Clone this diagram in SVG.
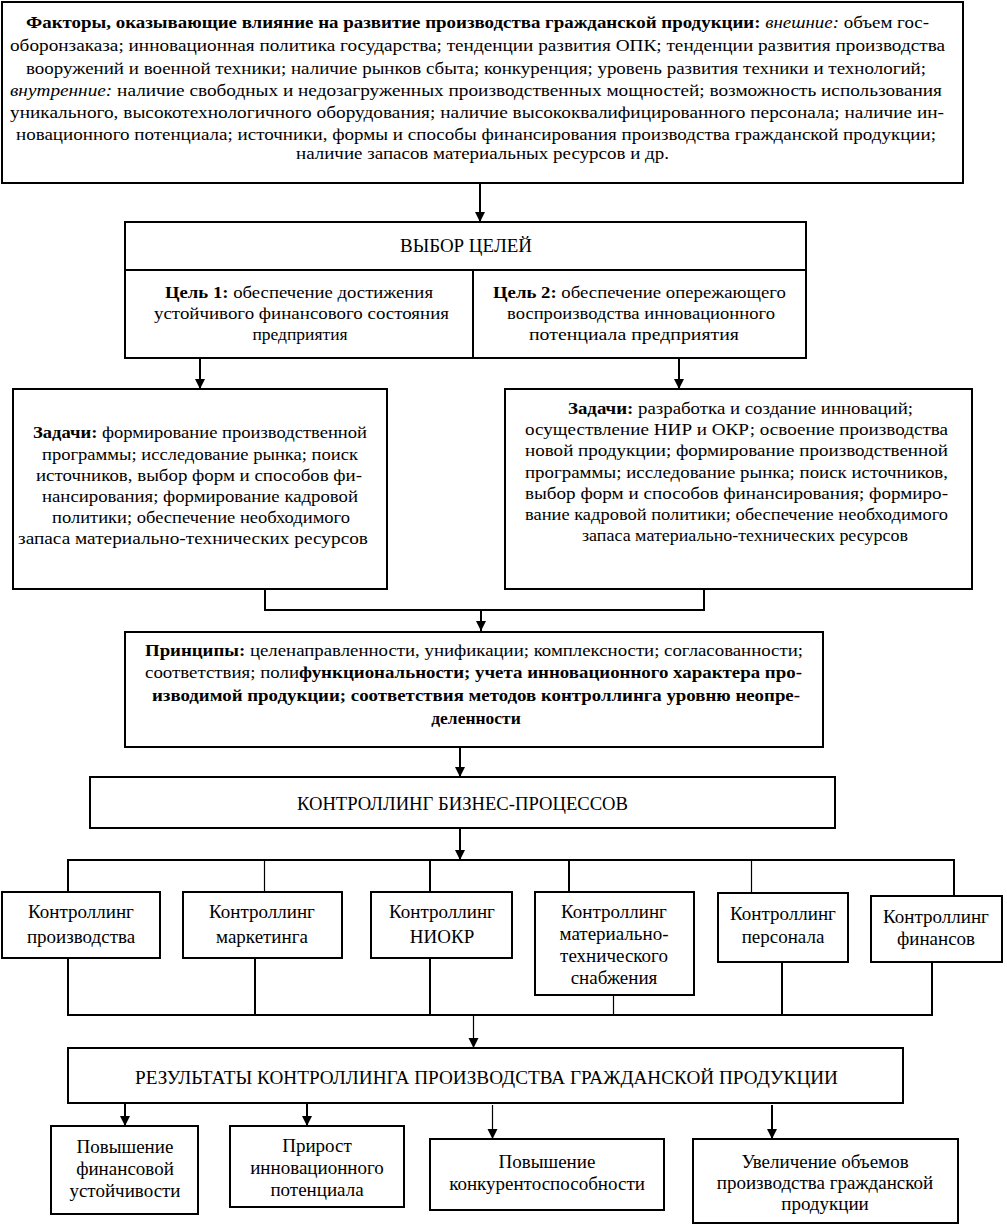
<svg xmlns="http://www.w3.org/2000/svg" width="1007" height="1226" viewBox="0 0 1007 1226" font-family="'Liberation Serif', 'Times New Roman', serif">
<style>
text{font-family:'Liberation Serif','Times New Roman',serif;font-size:17.5px;fill:#000}
.l{font-size:19px}
.c{text-anchor:middle}
.b{font-weight:bold}
.i{font-style:italic}
rect{fill:#fff;stroke:#000;stroke-width:2}
.ln{fill:none;stroke:#000;stroke-width:2}
.th{fill:none;stroke:#000;stroke-width:1.2}
</style>
<defs>
<marker id="ah" viewBox="0 0 10 10" refX="10" refY="5" markerWidth="10" markerHeight="11" markerUnits="userSpaceOnUse" orient="auto">
<path d="M0,0 L10,5 L0,10 z" fill="#000"/>
</marker>
</defs>
<g id="connectors">
<line class="ln" x1="480" y1="183" x2="480" y2="222" marker-end="url(#ah)"/>
<line class="ln" x1="200" y1="359" x2="200" y2="389" marker-end="url(#ah)"/>
<line class="ln" x1="679" y1="359" x2="679" y2="389" marker-end="url(#ah)"/>
<path class="ln" d="M265 589 V610 H704 V589"/>
<line class="ln" x1="481" y1="610" x2="481" y2="631" marker-end="url(#ah)"/>
<line class="ln" x1="460" y1="747" x2="460" y2="777" marker-end="url(#ah)"/>
<line class="ln" x1="460" y1="828" x2="460" y2="860" marker-end="url(#ah)"/>
<path class="ln" d="M68 892 V860 H954 V896"/>
<line class="th" x1="264.5" y1="860" x2="264.5" y2="892"/>
<line class="ln" x1="430" y1="860" x2="430" y2="892"/>
<line class="ln" x1="569" y1="860" x2="569" y2="892"/>
<line class="th" x1="751.5" y1="860" x2="751.5" y2="893"/>
<path class="ln" d="M68 958 V1015 H932 V962"/>
<line class="ln" x1="255" y1="958" x2="255" y2="1015"/>
<line class="ln" x1="430" y1="958" x2="430" y2="1015"/>
<line class="th" x1="613.5" y1="995" x2="613.5" y2="1015"/>
<line class="ln" x1="782" y1="962" x2="782" y2="1015"/>
<line class="th" x1="473.5" y1="1015" x2="473.5" y2="1048" marker-end="url(#ah)"/>
<line class="ln" x1="125" y1="1103" x2="125" y2="1126" marker-end="url(#ah)"/>
<line class="ln" x1="307" y1="1103" x2="307" y2="1126" marker-end="url(#ah)"/>
<line class="th" x1="492.5" y1="1105" x2="492.5" y2="1139" marker-end="url(#ah)"/>
<line class="ln" x1="772" y1="1105" x2="772" y2="1139" marker-end="url(#ah)"/>
</g>
<g id="factors">
<rect x="2" y="2" width="961" height="181"/>
<text x="26" y="28" textLength="903" lengthAdjust="spacingAndGlyphs"><tspan class="b">Факторы, оказывающие влияние на развитие производства гражданской продукции:</tspan> <tspan class="i">внешние:</tspan> объем гос-</text>
<text x="10" y="51" textLength="935" lengthAdjust="spacingAndGlyphs">оборонзаказа; инновационная политика государства; тенденции развития ОПК; тенденции развития производства</text>
<text x="26" y="74" textLength="900" lengthAdjust="spacingAndGlyphs">вооружений и военной техники; наличие рынков сбыта; конкуренция; уровень развития техники и технологий;</text>
<text x="10" y="96" textLength="932" lengthAdjust="spacingAndGlyphs"><tspan class="i">внутренние:</tspan> наличие свободных и недозагруженных производственных мощностей; возможность использования</text>
<text x="10" y="118" textLength="934" lengthAdjust="spacingAndGlyphs">уникального, высокотехнологичного оборудования; наличие высококвалифицированного персонала; наличие ин-</text>
<text x="16" y="140" textLength="920" lengthAdjust="spacingAndGlyphs">новационного потенциала; источники, формы и способы финансирования производства гражданской продукции;</text>
<text x="296" y="159" textLength="373" lengthAdjust="spacingAndGlyphs">наличие запасов материальных ресурсов и др.</text>
</g>
<g id="goals">
<rect x="125" y="222" width="681" height="136"/>
<line class="ln" x1="125" y1="270" x2="806" y2="270"/>
<line class="ln" x1="473" y1="270" x2="473" y2="358"/>
<text class="l" x="400" y="252" textLength="132" lengthAdjust="spacingAndGlyphs">ВЫБОР ЦЕЛЕЙ</text>
</g>
<g id="goal1">
<text x="165" y="298" textLength="268" lengthAdjust="spacingAndGlyphs"><tspan class="b">Цель 1:</tspan> обеспечение достижения</text>
<text x="154" y="319" textLength="295" lengthAdjust="spacingAndGlyphs">устойчивого финансового состояния</text>
<text class="c" x="300" y="340">предприятия</text>
</g>
<g id="goal2">
<text x="493" y="298" textLength="293" lengthAdjust="spacingAndGlyphs"><tspan class="b">Цель 2:</tspan> обеспечение опережающего</text>
<text x="507" y="319" textLength="268" lengthAdjust="spacingAndGlyphs">воспроизводства инновационного</text>
<text x="529" y="340" textLength="210" lengthAdjust="spacingAndGlyphs">потенциала предприятия</text>
</g>
<g id="tasks1">
<rect x="13" y="389" width="374" height="200"/>
<text x="33" y="438" textLength="334" lengthAdjust="spacingAndGlyphs"><tspan class="b">Задачи:</tspan> формирование производственной</text>
<text x="42" y="460" textLength="316" lengthAdjust="spacingAndGlyphs">программы; исследование рынка; поиск</text>
<text x="36" y="481" textLength="326" lengthAdjust="spacingAndGlyphs">источников, выбор форм и способов фи-</text>
<text x="42" y="502" textLength="316" lengthAdjust="spacingAndGlyphs">нансирования; формирование кадровой</text>
<text x="52" y="523" textLength="298" lengthAdjust="spacingAndGlyphs">политики; обеспечение необходимого</text>
<text x="18" y="544" textLength="350" lengthAdjust="spacingAndGlyphs">запаса материально-технических ресурсов</text>
</g>
<g id="tasks2">
<rect x="505" y="389" width="467" height="200"/>
<text x="568" y="414" textLength="345" lengthAdjust="spacingAndGlyphs"><tspan class="b">Задачи:</tspan> разработка и создание инноваций;</text>
<text x="525" y="435" textLength="423" lengthAdjust="spacingAndGlyphs">осуществление НИР и ОКР; освоение производства</text>
<text x="525" y="456" textLength="423" lengthAdjust="spacingAndGlyphs">новой продукции; формирование производственной</text>
<text x="525" y="478" textLength="423" lengthAdjust="spacingAndGlyphs">программы; исследование рынка; поиск источников,</text>
<text x="525" y="499" textLength="423" lengthAdjust="spacingAndGlyphs">выбор форм и способов финансирования; формиро-</text>
<text x="525" y="520" textLength="423" lengthAdjust="spacingAndGlyphs">вание кадровой политики; обеспечение необходимого</text>
<text x="582" y="541" textLength="326" lengthAdjust="spacingAndGlyphs">запаса материально-технических ресурсов</text>
</g>
<g id="principles">
<rect x="125" y="632" width="698" height="115"/>
<text x="145" y="656" textLength="658" lengthAdjust="spacingAndGlyphs"><tspan class="b">Принципы:</tspan> целенаправленности, унификации; комплексности; согласованности;</text>
<text x="145" y="678" textLength="657" lengthAdjust="spacingAndGlyphs">соответствия; поли<tspan class="b">функциональности; учета инновационного характера про-</tspan></text>
<text class="b" x="152" y="701" textLength="648" lengthAdjust="spacingAndGlyphs">изводимой продукции; соответствия методов контроллинга уровню неопре-</text>
<text class="c b" x="476" y="724">деленности</text>
</g>
<g id="bp">
<rect x="90" y="777" width="745" height="51"/>
<text class="l" x="297" y="810" textLength="331" lengthAdjust="spacingAndGlyphs">КОНТРОЛЛИНГ БИЗНЕС-ПРОЦЕССОВ</text>
</g>
<g id="c1">
<rect x="2" y="892" width="158" height="66"/>
<text class="c l" x="81" y="918">Контроллинг</text>
<text class="c l" x="81" y="943">производства</text>
</g>
<g id="c2">
<rect x="183" y="892" width="159" height="66"/>
<text class="c l" x="262" y="918">Контроллинг</text>
<text class="c l" x="262" y="943">маркетинга</text>
</g>
<g id="c3">
<rect x="371" y="892" width="141" height="66"/>
<text class="c l" x="442" y="918">Контроллинг</text>
<text class="c l" x="442" y="943">НИОКР</text>
</g>
<g id="c4">
<rect x="535" y="892" width="159" height="103"/>
<text class="c l" x="614" y="918">Контроллинг</text>
<text class="c l" x="614" y="940">материально-</text>
<text class="c l" x="614" y="962">технического</text>
<text class="c l" x="614" y="984">снабжения</text>
</g>
<g id="c5">
<rect x="718" y="893" width="130" height="69"/>
<text class="c l" x="783" y="920">Контроллинг</text>
<text class="c l" x="783" y="943">персонала</text>
</g>
<g id="c6">
<rect x="871" y="896" width="131" height="66"/>
<text class="c l" x="936" y="923">Контроллинг</text>
<text class="c l" x="936" y="945">финансов</text>
</g>
<g id="results">
<rect x="68" y="1048" width="835" height="55"/>
<text class="l" x="135" y="1084" textLength="703" lengthAdjust="spacingAndGlyphs">РЕЗУЛЬТАТЫ КОНТРОЛЛИНГА ПРОИЗВОДСТВА ГРАЖДАНСКОЙ ПРОДУКЦИИ</text>
</g>
<g id="r1">
<rect x="51" y="1126" width="147" height="88"/>
<text class="c l" x="125" y="1153">Повышение</text>
<text class="c l" x="125" y="1175">финансовой</text>
<text class="c l" x="125" y="1197">устойчивости</text>
</g>
<g id="r2">
<rect x="230" y="1126" width="174" height="81"/>
<text class="c l" x="317" y="1152">Прирост</text>
<text class="c l" x="317" y="1174">инновационного</text>
<text class="c l" x="317" y="1196">потенциала</text>
</g>
<g id="r3">
<rect x="430" y="1139" width="234" height="71"/>
<text class="c l" x="547" y="1168">Повышение</text>
<text class="c l" x="547" y="1190">конкурентоспособности</text>
</g>
<g id="r4">
<rect x="693" y="1139" width="265" height="84"/>
<text class="c l" x="825" y="1168">Увеличение объемов</text>
<text class="c l" x="825" y="1189">производства гражданской</text>
<text class="c l" x="825" y="1210">продукции</text>
</g>
</svg>
